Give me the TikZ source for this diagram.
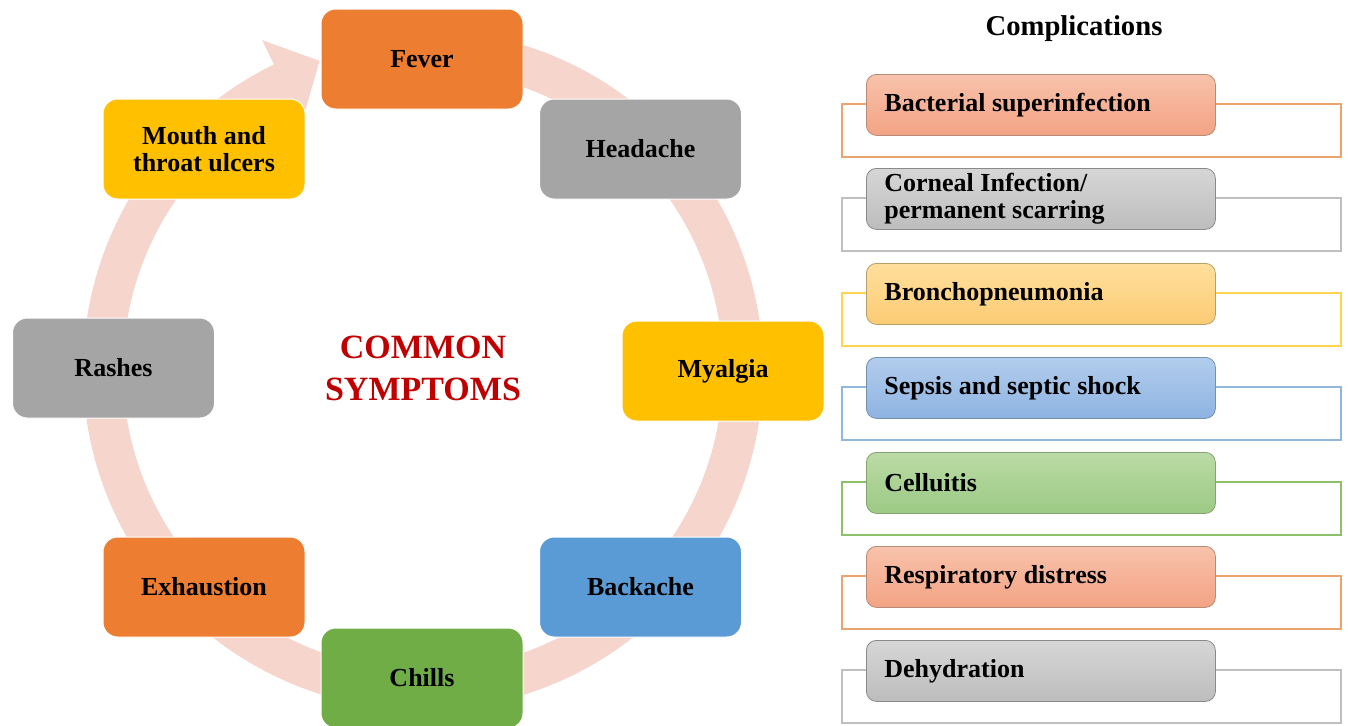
\documentclass[tikz,border=0pt]{standalone}
\usepackage{fontspec}
\setmainfont{Liberation Serif}
\usetikzlibrary{calc}
\definecolor{ringcol}{HTML}{F6D6CC}
\definecolor{sorange}{HTML}{ED7D31}
\definecolor{sgrey}{HTML}{A5A5A5}
\definecolor{sgold}{HTML}{FFC000}
\definecolor{sblue}{HTML}{5B9BD5}
\definecolor{sgreen}{HTML}{70AD47}
\definecolor{darkred}{HTML}{C00000}
\definecolor{salmonT}{HTML}{F8C2AB}
\definecolor{salmonB}{HTML}{F3A384}
\definecolor{salmonD}{HTML}{B88A78}
\definecolor{greyT}{HTML}{D6D6D6}
\definecolor{greyB}{HTML}{BDBDBD}
\definecolor{greyD}{HTML}{8A8A8A}
\definecolor{goldT}{HTML}{FFDF9C}
\definecolor{goldB}{HTML}{FBCB74}
\definecolor{goldD}{HTML}{B5A06A}
\definecolor{blueT}{HTML}{B2CDEC}
\definecolor{blueB}{HTML}{8EB3E2}
\definecolor{blueD}{HTML}{7390B0}
\definecolor{greenT}{HTML}{BBDBA6}
\definecolor{greenB}{HTML}{9CCA84}
\definecolor{greenD}{HTML}{86A273}
\definecolor{oOrange}{HTML}{EDA36E}
\definecolor{oGrey}{HTML}{BFBFBF}
\definecolor{oGold}{HTML}{FFD54F}
\definecolor{oBlue}{HTML}{8FB8DC}
\definecolor{oGreen}{HTML}{8CC06A}
\tikzset{
  sym/.style={rounded corners=11pt, minimum width=151.5pt, minimum height=75pt,
    draw=white, line width=0.75pt, inner sep=0pt, align=center,
    font=\fontsize{19.5}{20.25}\selectfont\bfseries, text=black},
  comp/.style={rounded corners=7.5pt, minimum width=261.75pt, minimum height=45.75pt,
    inner xsep=13.5pt, inner ysep=0pt, text width=234.75pt, align=flush left, anchor=north west,
    line width=0.6pt, font=\fontsize{19.5}{20}\selectfont\bfseries, text=black},
  outl/.style={line width=0.8pt},
  salmon/.style={top color=salmonT, bottom color=salmonB, draw=salmonD},
  greyc/.style={top color=greyT, bottom color=greyB, draw=greyD},
  goldc/.style={top color=goldT, bottom color=goldB, draw=goldD},
  bluec/.style={top color=blueT, bottom color=blueB, draw=blueD},
  greenc/.style={top color=greenT, bottom color=greenB, draw=greenD},
}
\begin{document}
\begin{tikzpicture}[x=0.75pt,y=-0.75pt]
\useasboundingbox (0,0) rectangle (1348,725);
\fill[white] (0,0) rectangle (1348,725);
% ring
\coordinate (c) at (423,370);
\draw[ringcol, line width=30pt] ($(c)+(-80:320)$) arc[start angle=-80,end angle=245,radius=320];
\fill[ringcol] ($(c)+(244:276)$) -- ($(c)+(244:367)$) -- ($(c)+(251.5:326)$) -- cycle;
% symptoms
\node[sym, fill=sorange] (fever) at (422,59) {Fever};
\node[sym, fill=sgrey] (headache) at (640.5,149) {Headache};
\node[sym, fill=sgold] (myalgia) at (723,371) {Myalgia};
\node[sym, fill=sblue] (backache) at (640.5,587) {Backache};
\node[sym, fill=sgreen] (chills) at (422,678) {Chills};
\node[sym, fill=sorange] (exhaustion) at (204,587) {Exhaustion};
\node[sym, fill=sgrey] (rashes) at (113.5,368) {Rashes};
\node[sym, fill=sgold] (mouth) at (204,149) {Mouth and\\throat ulcers};
\node[text=darkred, align=center, font=\fontsize{25.5}{31.5}\selectfont\bfseries] (common) at (423,368) {COMMON\\SYMPTOMS};
% complications
\node[font=\fontsize{21.5}{24}\selectfont\bfseries] (title) at (1074,29) {Complications};
\foreach \t/\o/\s/\txt [count=\i] in {74/oOrange/salmon/{Bacterial superinfection},
  168/oGrey/greyc/{Corneal Infection/\\permanent scarring},
  263/oGold/goldc/{Bronchopneumonia},
  357/oBlue/bluec/{Sepsis and septic shock},
  452/oGreen/greenc/{Celluitis},
  546/oOrange/salmon/{Respiratory distress},
  640/oGrey/greyc/{Dehydration}}{
  \draw[outl, \o] (842,\t+30) rectangle (1341,\t+83);
  \node[comp, \s] (comp\i) at (866,\t) {\txt};
}
\end{tikzpicture}
\end{document}
